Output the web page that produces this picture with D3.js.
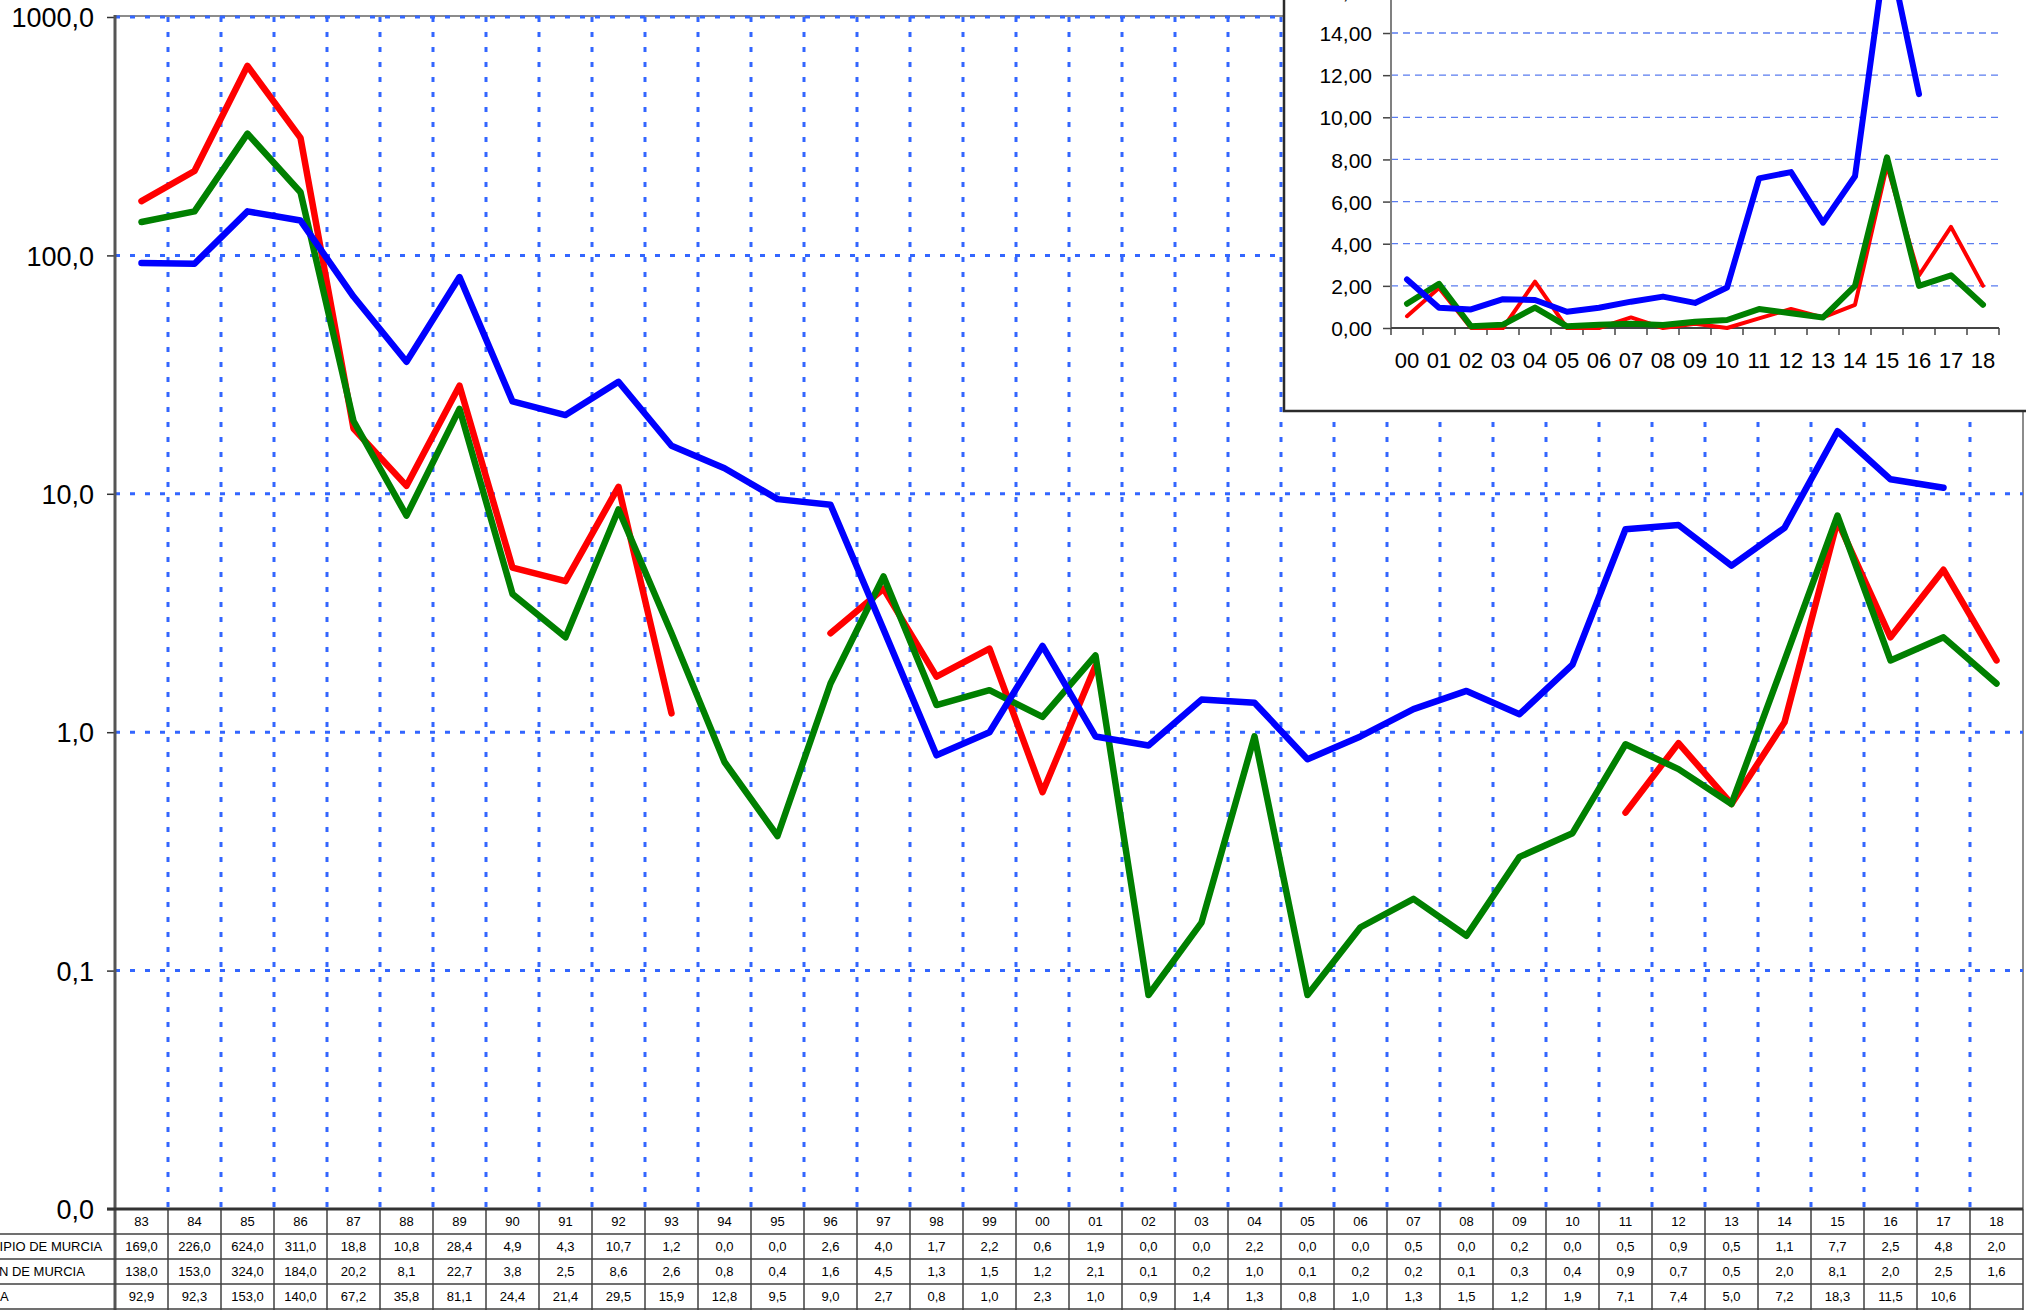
<!DOCTYPE html>
<html>
<head>
<meta charset="utf-8">
<script src="https://cdn.jsdelivr.net/npm/d3@7/dist/d3.min.js"></script>
<style>
  html, body { margin: 0; padding: 0; background: #fff; overflow: hidden; }
  svg { display: block; font-family: "Liberation Sans", Arial, sans-serif; }
</style>
</head>
<body>
<svg id="chart" width="2026" height="1310"></svg>
<script>
// ---------------- DATA ----------------
const years = ["83","84","85","86","87","88","89","90","91","92","93","94","95","96","97","98","99",
               "00","01","02","03","04","05","06","07","08","09","10","11","12","13","14","15","16","17","18"];
const seriesNames = ["MUNICIPIO DE MURCIA", "REGIÓN DE MURCIA", "ESPAÑA"];
const municipio = [169.0,226.0,624.0,311.0,18.8,10.8,28.4,4.9,4.3,10.7,1.2,0.0,0.0,2.6,4.0,1.71,2.24,
                   0.56,1.9,0.0,0.0,2.2,0.0,0.0,0.5,0.0,0.2,0.0,0.46,0.9,0.5,1.1,7.7,2.5,4.8,2.0];
const region    = [138.0,153.0,324.0,184.0,20.2,8.1,22.7,3.8,2.5,8.6,2.6,0.75,0.367,1.6,4.5,1.3,1.5,
                   1.16,2.1,0.079,0.159,0.96,0.079,0.152,0.2,0.14,0.3,0.377,0.89,0.7,0.5,2.0,8.1,2.0,2.5,1.6];
const espana    = [92.9,92.3,153.0,140.0,67.2,35.8,81.1,24.4,21.4,29.5,15.9,12.8,9.5,9.0,2.7,0.8,1.0,
                   2.3,0.96,0.88,1.37,1.33,0.77,0.96,1.25,1.49,1.19,1.92,7.1,7.4,5.0,7.2,18.3,11.5,10.6,null];
const yTicks = [0.01, 0.1, 1, 10, 100, 1000];

// inset chart (2000-2018, linear scale)
const insetYears = ["00","01","02","03","04","05","06","07","08","09","10","11","12","13","14","15","16","17","18"];
const insetMunicipio = [0.56,1.9,0.0,0.0,2.2,0.0,0.0,0.5,0.0,0.2,0.0,0.46,0.9,0.5,1.1,7.7,2.5,4.8,2.0];
const insetRegion    = [1.15,2.1,0.08,0.16,0.97,0.08,0.15,0.2,0.14,0.3,0.38,0.9,0.7,0.5,2.0,8.1,2.0,2.5,1.1];
const insetEspana    = [2.3,0.96,0.88,1.37,1.33,0.77,0.96,1.25,1.49,1.19,1.92,7.1,7.4,5.0,7.2,18.3,11.1,null,null];
const insetTicks = [0,2,4,6,8,10,12,14,16];

// ---------------- SETUP ----------------
const esLocale = d3.formatLocale({decimal: ",", thousands: ".", grouping: [3], currency: ["", " €"]});
const f1 = esLocale.format(".1f");
const f2 = esLocale.format(".2f");

const colors = ["#ff0000", "#008000", "#0000ff"];
const gridBlue = "#3366ff";
const svg = d3.select("#chart");

const plotL = 115, plotR = 2023, plotT = 17, plotB = 1209;
const x = d3.scaleBand().domain(years).range([plotL, plotR]);
const y = d3.scaleLog().domain([0.01, 1000]).range([plotB, plotT]);

// frame (top / right)
svg.append("line").attr("x1", plotL).attr("x2", plotR).attr("y1", plotT - 1).attr("y2", plotT - 1)
   .attr("stroke", "#8c8c8c").attr("stroke-width", 2);
svg.append("line").attr("x1", plotR).attr("x2", plotR).attr("y1", plotT - 1).attr("y2", plotB)
   .attr("stroke", "#8c8c8c").attr("stroke-width", 2);

// vertical gridlines at category boundaries
const grid = svg.append("g");
grid.selectAll("line.v").data(years.slice(1)).join("line")
  .attr("x1", d => x(d)).attr("x2", d => x(d))
  .attr("y1", plotT).attr("y2", plotB)
  .attr("stroke", gridBlue).attr("stroke-width", 3).attr("stroke-dasharray", "5,10");
// horizontal gridlines
grid.selectAll("line.h").data(yTicks.slice(1)).join("line")
  .attr("x1", plotL).attr("x2", plotR)
  .attr("y1", d => y(d)).attr("y2", d => y(d))
  .attr("stroke", gridBlue).attr("stroke-width", 3).attr("stroke-dasharray", "5,10");

// y axis
const yAxis = svg.append("g").attr("transform", `translate(${plotL},0)`)
  .call(d3.axisLeft(y).tickValues(yTicks).tickFormat(f1).tickSize(8).tickPadding(13));
yAxis.select(".domain").remove();
yAxis.selectAll(".tick line").attr("stroke", "#333").attr("stroke-width", 1.5);
yAxis.selectAll(".tick text").attr("font-size", 27).attr("fill", "#000")
  .attr("font-family", "Liberation Sans, Arial, sans-serif").attr("dy", "0.36em");
svg.append("line").attr("x1", plotL).attr("x2", plotL).attr("y1", plotT - 2).attr("y2", 1310)
   .attr("stroke", "#555").attr("stroke-width", 3);

// lines (a point is drawn only when it links to a neighbouring non-zero value)
const ok = v => v != null && v > 0;
const line = d3.line()
  .defined(d => ok(d.v) && (ok(d.prev) || ok(d.next)))
  .x(d => x(d.k) + x.bandwidth() / 2)
  .y(d => y(d.v));
[municipio, region, espana].forEach((arr, i) => {
  svg.append("path")
    .datum(arr.map((v, j) => ({k: years[j], v, prev: arr[j - 1], next: arr[j + 1]})))
    .attr("d", line)
    .attr("fill", "none").attr("stroke", colors[i]).attr("stroke-width", 6.5)
    .attr("stroke-linejoin", "round").attr("stroke-linecap", "round");
});

// ---------------- DATA TABLE ----------------
const rowH = 25, tTop = plotB;
const table = svg.append("g");
[tTop + rowH, tTop + 2 * rowH, tTop + 3 * rowH, 1309].forEach(yy => {
  table.append("line").attr("x1", -5).attr("x2", plotR).attr("y1", yy).attr("y2", yy)
    .attr("stroke", "#404040").attr("stroke-width", 1.5);
});
table.selectAll("line.col").data(years.slice(1).concat(["end"])).join("line")
  .attr("x1", d => d === "end" ? plotR : x(d)).attr("x2", d => d === "end" ? plotR : x(d))
  .attr("y1", tTop).attr("y2", 1310)
  .attr("stroke", "#404040").attr("stroke-width", 1.5);
svg.append("line").attr("x1", plotL - 8).attr("x2", plotR).attr("y1", plotB).attr("y2", plotB)
   .attr("stroke", "#333").attr("stroke-width", 3);
table.selectAll("text.hdr").data(years).join("text")
  .attr("x", d => x(d) + x.bandwidth() / 2).attr("y", tTop + rowH / 2)
  .attr("dy", "0.36em").attr("text-anchor", "middle").attr("font-size", 13).attr("fill", "#000")
  .text(d => d);
[municipio, region, espana].forEach((arr, i) => {
  const cy = tTop + rowH * (i + 1) + rowH / 2;
  table.append("text").attr("x", -43).attr("y", cy).attr("dy", "0.36em")
    .attr("font-size", 13).attr("fill", "#000").text(seriesNames[i]);
  table.selectAll(null).data(arr.map((v, j) => ({k: years[j], v}))).join("text")
    .attr("x", d => x(d.k) + x.bandwidth() / 2).attr("y", cy)
    .attr("dy", "0.36em").attr("text-anchor", "middle").attr("font-size", 13).attr("fill", "#000")
    .text(d => d.v == null ? "" : f1(d.v));
});

// ---------------- INSET ----------------
const inset = svg.append("g");
inset.append("rect").attr("x", 1284).attr("y", -80).attr("width", 760).attr("height", 491)
  .attr("fill", "#fff").attr("stroke", "#2b2b2b").attr("stroke-width", 2.5);
const ix = d3.scaleBand().domain(insetYears).range([1391, 1999]);
const iy = d3.scaleLinear().domain([0, 16]).range([328, 328 - 16 * 21.07]);

inset.selectAll("line.ig").data(insetTicks.slice(1)).join("line")
  .attr("x1", 1391).attr("x2", 1999).attr("y1", d => iy(d)).attr("y2", d => iy(d))
  .attr("stroke", "#5a7cf0").attr("stroke-width", 1.3).attr("stroke-dasharray", "7,5");

const iyAxis = inset.append("g").attr("transform", "translate(1391,0)")
  .call(d3.axisLeft(iy).tickValues(insetTicks).tickFormat(f2).tickSize(8).tickPadding(11));
iyAxis.select(".domain").remove();
iyAxis.selectAll(".tick line").attr("stroke", "#444").attr("stroke-width", 1.5);
iyAxis.selectAll(".tick text").attr("font-size", 21).attr("fill", "#000")
  .attr("font-family", "Liberation Sans, Arial, sans-serif").attr("dy", "0.36em");
inset.append("line").attr("x1", 1391).attr("x2", 1391).attr("y1", -60).attr("y2", 328)
  .attr("stroke", "#808080").attr("stroke-width", 2);

inset.append("line").attr("x1", 1391).attr("x2", 1999).attr("y1", 328).attr("y2", 328)
  .attr("stroke", "#444").attr("stroke-width", 2);
inset.selectAll("line.ixt").data(insetYears.concat(["end"])).join("line")
  .attr("x1", d => d === "end" ? 1999 : ix(d)).attr("x2", d => d === "end" ? 1999 : ix(d))
  .attr("y1", 328).attr("y2", 335).attr("stroke", "#444").attr("stroke-width", 1.5);
inset.selectAll("text.ixl").data(insetYears).join("text")
  .attr("x", d => ix(d) + ix.bandwidth() / 2).attr("y", 368)
  .attr("text-anchor", "middle").attr("font-size", 22).attr("fill", "#000").text(d => d);

const iline = d3.line()
  .defined(d => d.v != null)
  .x(d => ix(d.k) + ix.bandwidth() / 2)
  .y(d => iy(d.v));
const iWidths = [4, 6, 6];
[insetMunicipio, insetRegion, insetEspana].forEach((arr, i) => {
  inset.append("path")
    .datum(arr.map((v, j) => ({k: insetYears[j], v})))
    .attr("d", iline)
    .attr("fill", "none").attr("stroke", colors[i]).attr("stroke-width", iWidths[i])
    .attr("stroke-linejoin", "round").attr("stroke-linecap", "round");
});
</script>
</body>
</html>
